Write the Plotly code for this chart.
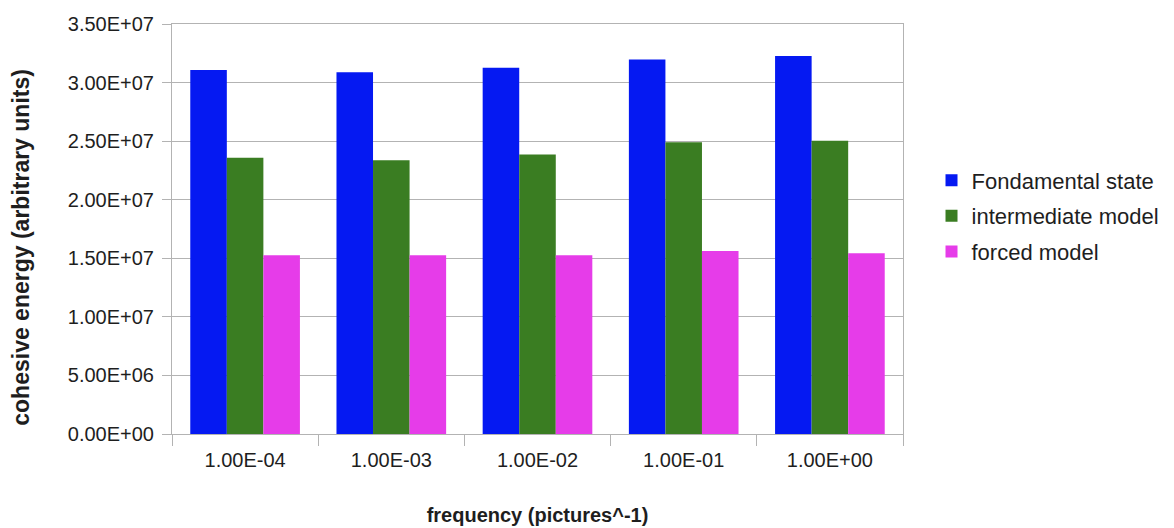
import plotly.graph_objects as go

# Frequencies (categories) and cohesive energy per model
frequencies = ["1.00E-04", "1.00E-03", "1.00E-02", "1.00E-01", "1.00E+00"]
fondamental_state = [3.107e7, 3.088e7, 3.127e7, 3.198e7, 3.227e7]
intermediate_model = [2.359e7, 2.336e7, 2.387e7, 2.490e7, 2.504e7]
forced_model = [1.525e7, 1.525e7, 1.525e7, 1.562e7, 1.542e7]

# Y axis ticks
y_tick_values = [0, 5e6, 1e7, 1.5e7, 2e7, 2.5e7, 3e7, 3.5e7]
y_tick_labels = ["0.00E+00", "5.00E+06", "1.00E+07", "1.50E+07", "2.00E+07",
                 "2.50E+07", "3.00E+07", "3.50E+07"]

font_family = "Liberation Sans, Arial, sans-serif"
grid_color = "#b3b3b3"
text_color = "#1e1e1e"

fig = go.Figure()
fig.add_bar(x=frequencies, y=fondamental_state, name="Fondamental state",
            legendgroup="a", marker=dict(color="#0519f2", line=dict(width=0)))
fig.add_bar(x=frequencies, y=intermediate_model, name="intermediate model",
            legendgroup="b", marker=dict(color="#3a7d22", line=dict(width=0)))
fig.add_bar(x=frequencies, y=forced_model, name="forced model",
            legendgroup="c", marker=dict(color="#e63ce9", line=dict(width=0)))

fig.update_layout(
    width=1174, height=528,
    margin=dict(l=172, r=271, t=24, b=94, autoexpand=False),
    paper_bgcolor="white", plot_bgcolor="white",
    barmode="group", bargap=0.25, bargroupgap=0,
    font=dict(family=font_family, size=20, color=text_color),
    showlegend=True,
    legend=dict(x=1.039, y=0.532, xanchor="left", yanchor="middle",
                font=dict(size=22, color=text_color),
                itemwidth=30, tracegroupgap=4, bgcolor="rgba(0,0,0,0)"),
)

# Vertical axis title, placed as a rotated annotation left of the tick labels
fig.add_annotation(
    text="<b>cohesive energy (arbitrary units)</b>",
    xref="paper", yref="paper", x=-0.207, y=0.456,
    xanchor="center", yanchor="middle", textangle=-90, showarrow=False,
    font=dict(size=23, color=text_color),
)

fig.update_xaxes(
    type="category",
    showgrid=False, automargin=False,
    showline=True, linecolor=grid_color, linewidth=1, mirror=True,
    ticks="outside", tickson="boundaries", ticklen=11, tickcolor=grid_color,
    ticklabelstandoff=8,
    tickfont=dict(size=20, color=text_color),
    title=dict(text="<b>frequency (pictures^-1)</b>", standoff=37,
               font=dict(size=20, color=text_color)),
)
fig.update_yaxes(
    range=[0, 3.5e7], automargin=False,
    tickvals=y_tick_values, ticktext=y_tick_labels,
    showgrid=True, gridcolor=grid_color, gridwidth=1,
    showline=True, linecolor=grid_color, linewidth=1, mirror=True,
    ticks="outside", ticklen=9, tickcolor=grid_color,
    ticklabelstandoff=4,
    tickfont=dict(size=20, color=text_color),
    zeroline=False,
)

fig.write_html("out.html")
